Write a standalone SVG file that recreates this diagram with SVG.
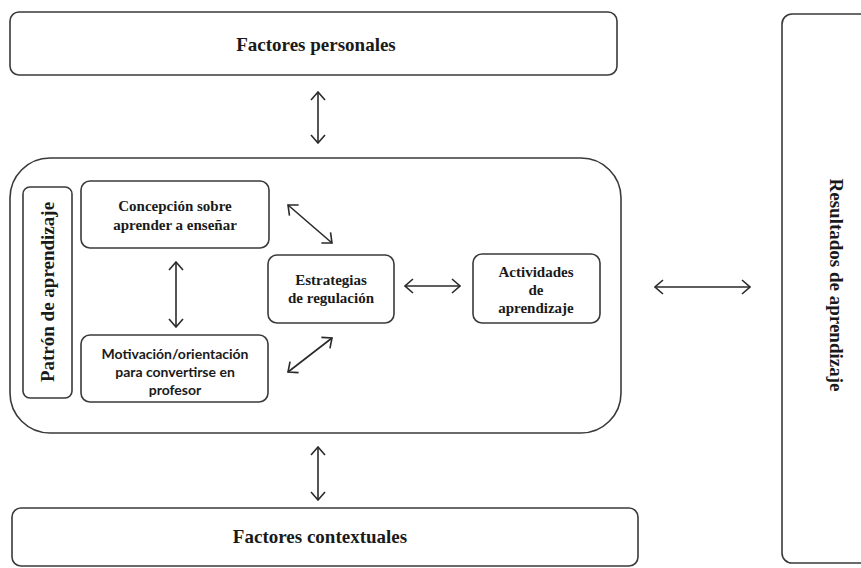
<svg xmlns="http://www.w3.org/2000/svg" width="861" height="568" viewBox="0 0 861 568">
<style>
.box{fill:#fff;stroke:#3a3a3a;stroke-width:1.6}
.t{font-family:"Liberation Serif","Times New Roman",serif;font-weight:bold;fill:#1a1a1a;text-anchor:middle}
.big{font-size:19px}
.sm{font-size:15px}
.sans{font-family:Lato,"Liberation Sans",Arial,sans-serif;font-weight:bold;font-size:14px;fill:#1a1a1a;text-anchor:middle}
.c{stroke:#2a2a2a;stroke-width:1.6;fill:none;marker-start:url(#ah);marker-end:url(#ah)}
</style>
<defs>
<marker id="ah" viewBox="0 0 10 16" refX="9" refY="8" markerWidth="10" markerHeight="16" markerUnits="userSpaceOnUse" orient="auto-start-reverse">
<path d="M1,1 L9,8 L1,15" fill="none" stroke="#2a2a2a" stroke-width="1.6"/>
</marker>
</defs>
<rect width="861" height="568" fill="#fff"/>
<g id="factores-personales">
<rect class="box" x="10" y="12" width="607" height="63" rx="9"/>
<text class="t big" x="316" y="51">Factores personales</text>
</g>
<g id="patron-container">
<rect class="box" x="10" y="158" width="611" height="275" rx="40"/>
</g>
<g id="patron">
<rect class="box" x="23" y="187" width="49" height="211" rx="7"/>
<text class="t big" transform="translate(54,292) rotate(-90)" x="0" y="0">Patrón de aprendizaje</text>
</g>
<g id="concepcion">
<rect class="box" x="81" y="181" width="188" height="67" rx="9"/>
<text class="t sm" x="175" y="211">Concepción sobre</text>
<text class="t sm" x="175" y="230">aprender a enseñar</text>
</g>
<g id="motivacion">
<rect class="box" x="81" y="335" width="187" height="67" rx="9"/>
<text class="sans" x="175" y="359">Motivación/orientación</text>
<text class="sans" x="175" y="377">para convertirse en</text>
<text class="sans" x="175" y="395">profesor</text>
</g>
<g id="estrategias">
<rect class="box" x="268" y="255" width="126" height="68" rx="9"/>
<text class="t sm" x="331" y="285">Estrategias</text>
<text class="t sm" x="331" y="303">de regulación</text>
</g>
<g id="actividades">
<rect class="box" x="473" y="254" width="127" height="69" rx="9"/>
<text class="t sm" x="536" y="277">Actividades</text>
<text class="t sm" x="536" y="295">de</text>
<text class="t sm" x="536" y="313">aprendizaje</text>
</g>
<g id="factores-contextuales">
<rect class="box" x="12" y="508" width="626" height="58" rx="9"/>
<text class="t big" x="320" y="543">Factores contextuales</text>
</g>
<g id="resultados">
<rect class="box" x="782" y="14" width="100" height="549" rx="10"/>
<text class="t big" transform="translate(830,285) rotate(90)" x="0" y="0">Resultados de aprendizaje</text>
</g>
<g id="connectors">
<line class="c" x1="318" y1="92" x2="318" y2="143"/>
<line class="c" x1="318" y1="447" x2="318" y2="500"/>
<line class="c" x1="176" y1="262" x2="176" y2="327"/>
<line class="c" x1="288" y1="205" x2="332" y2="243"/>
<line class="c" x1="332" y1="338" x2="288" y2="372"/>
<line class="c" x1="405" y1="286" x2="460" y2="286"/>
<line class="c" x1="655" y1="287" x2="750" y2="287"/>
</g>
</svg>
